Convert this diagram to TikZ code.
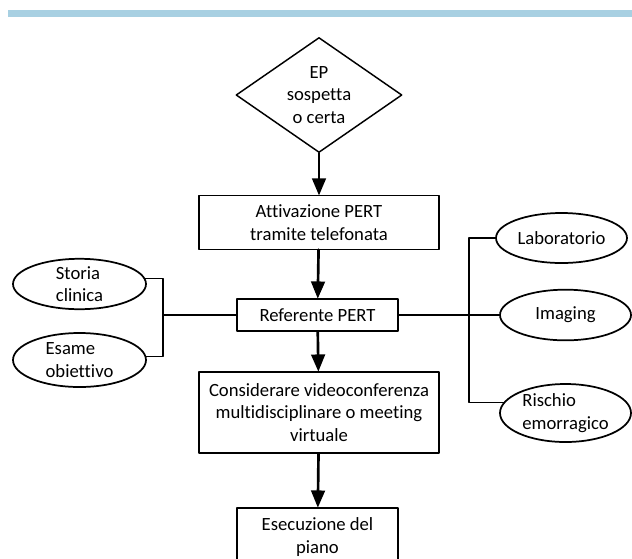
\documentclass[tikz,border=0pt]{standalone}
\usepackage{fontspec}
\setmainfont{Carlito}[Ligatures=NoCommon]
\usepackage{pgf,tikz}
\usetikzlibrary{arrows}
\usetikzlibrary{shapes.geometric}
\definecolor{barblue}{RGB}{168,208,226}

\begin{document}
\begin{tikzpicture}[line cap=round,line join=round,>=triangle 45,x=0.75pt,y=-0.75pt,
txt/.style={font=\fontsize{14}{17}\selectfont,align=center,inner sep=0pt},
box/.style={txt,draw,line width=0.8pt},
oval/.style={txt,ellipse,draw,line width=1.3pt,align=left},
flow/.style={->,line width=2pt},
link/.style={line width=0.8pt}]
\useasboundingbox (0,0) rectangle (632,558);
\clip (0,0) rectangle (632,558);
\fill[color=barblue] (8,10) rectangle (632,17);
\node[txt,diamond,draw,line width=1.1pt,shape aspect=1.44,minimum width=124.5pt,minimum height=86.25pt] (ep) at (319,95) {EP\\sospetta\\o certa};
\node[box,minimum width=180pt,minimum height=40pt] (attivazione) at (319,222.5) {Attivazione PERT\\tramite telefonata};
\node[box,minimum width=120.75pt,minimum height=24pt] (referente) at (317.5,315) {Referente PERT};
\node[box,minimum width=180pt,minimum height=60.75pt] (considerare) at (319,412.5) {Considerare videoconferenza\\multidisciplinare o meeting\\virtuale};
\node[box,minimum width=120.75pt,minimum height=43.5pt] (esecuzione) at (317.5,537) {Esecuzione del\\piano};
\node[oval,minimum width=99.75pt,minimum height=36pt] (storia) at (79.5,284) {Storia\\clinica};
\node[oval,minimum width=99.75pt,minimum height=40.5pt] (esame) at (79.5,360) {Esame\\obiettivo};
\node[oval,minimum width=98.25pt,minimum height=37.5pt] (laboratorio) at (561.5,238) {Laboratorio};
\node[oval,minimum width=98.25pt,minimum height=38pt] (imaging) at (565.5,315) {Imaging};
\node[oval,minimum width=98.25pt,minimum height=43.5pt] (rischio) at (565.5,413) {Rischio\\emorragico};
\coordinate (lj) at (163,315);
\coordinate (rj) at (469,315);
\draw[flow] (ep) -- (attivazione);
\draw[flow] (attivazione) -- (referente);
\draw[flow] (referente) -- (considerare);
\draw[flow] (considerare) -- (esecuzione);
\draw[link] (storia.5) -| (lj) |- (esame.3);
\draw[link] (lj) -- (referente.west);
\draw[link] (referente.east) -- (imaging.west);
\draw[link] (laboratorio.west) -| (rj) |- (rischio.170);
\end{tikzpicture}
\end{document}
